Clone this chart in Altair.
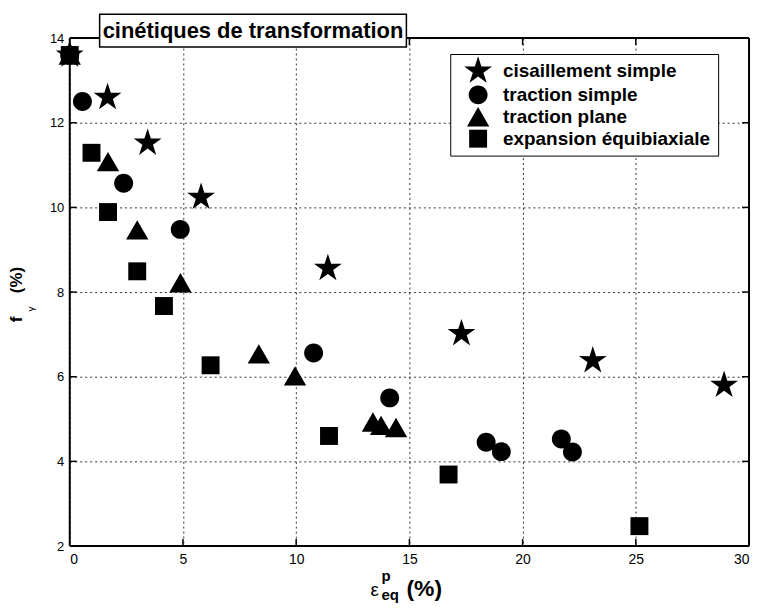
import math
import altair as alt
import pandas as pd

# ---------------- data ----------------
series_names = ["cisaillement simple", "traction simple", "traction plane", "expansion équibiaxiale"]

cis_x = [0, 1.67, 3.44, 5.8, 11.4, 17.3, 23.1, 28.9]
cis_y = [13.6, 12.6, 11.52, 10.24, 8.56, 7.02, 6.38, 5.8]

ts_x = [0, 0.56, 2.38, 4.88, 10.77, 14.13, 18.39, 19.06, 21.71, 22.2]
ts_y = [13.6, 12.5, 10.57, 9.48, 6.56, 5.5, 4.45, 4.23, 4.53, 4.22]

tp_x = [0, 1.69, 2.98, 4.89, 8.35, 9.95, 13.39, 13.75, 14.41]
tp_y = [13.6, 11.08, 9.47, 8.22, 6.54, 6.02, 4.93, 4.85, 4.8]

eb_x = [0, 0.96, 1.69, 2.98, 4.16, 6.22, 11.45, 16.73, 25.16]
eb_y = [13.6, 11.29, 9.89, 8.49, 7.67, 6.27, 4.6, 3.69, 2.47]

x_ticks = [0, 5, 10, 15, 20, 25, 30]
y_ticks = [2, 4, 6, 8, 10, 12, 14]
x_inner_ticks = [5, 10, 15, 20, 25]
y_inner_ticks = [4, 6, 8, 10, 12]

title_text = "cinétiques de transformation"
y_title = "f\u00a0\u00a0\u00a0\u00a0\u00a0(%)"

# ---------------- build table ----------------
rows = []
for name, xs, ys in zip(series_names, [cis_x, ts_x, tp_x, eb_x], [cis_y, ts_y, tp_y, eb_y]):
    for xv, yv in zip(xs, ys):
        rows.append({"serie": name, "x": xv, "y": yv})
df = pd.DataFrame(rows)

# ---------------- marker shapes (unit = sqrt(size)/2 px) ----------------
def star_path(R=1.47, ratio=0.38):
    pts = []
    for k in range(10):
        a = math.radians(-90 + 36 * k)
        r = R if k % 2 == 0 else R * ratio
        pts.append(f"{r*math.cos(a):.3f},{r*math.sin(a):.3f}")
    return "M" + " L".join(pts) + " Z"

circle_path = "M0.95,0 A0.95,0.95 0 1,1 -0.95,0 A0.95,0.95 0 1,1 0.95,0 Z"
triangle_path = "M0,-0.97 L1.12,0.97 L-1.12,0.97 Z"
square_path = "M-0.9,-0.9 L0.9,-0.9 L0.9,0.9 L-0.9,0.9 Z"
shapes = [star_path(), circle_path, triangle_path, square_path]

W, H = 682, 510
FONT = "Liberation Sans"

xs = alt.Scale(domain=[0, 30], nice=False, zero=False)
ys = alt.Scale(domain=[2, 14], nice=False, zero=False)

points = alt.Chart(df).mark_point(filled=True, size=400, opacity=1, color="black", strokeWidth=0).encode(
    x=alt.X("x:Q", scale=xs, axis=alt.Axis(values=x_ticks, title=None, grid=True, gridDash=[2, 3],
                                            gridColor="#333333", gridWidth=1, domain=False, ticks=False,
                                            labelFontSize=14, labelPadding=7, labelColor="black",
                                            labelFont=FONT)),
    y=alt.Y("y:Q", scale=ys, axis=alt.Axis(values=y_ticks, title=y_title, grid=True, gridDash=[2, 3],
                                            gridColor="#333333", gridWidth=1, domain=False, ticks=False,
                                            labelFontSize=13, labelPadding=6, labelColor="black",
                                            labelFont=FONT,
                                            titleFont=FONT, titleFontSize=17, titleFontWeight="bold",
                                            titleColor="black", titleAngle=270, titleAlign="center",
                                            titleBaseline="alphabetic", titleX=-48, titleY=257)),
    shape=alt.Shape("serie:N", scale=alt.Scale(domain=series_names, range=shapes),
                    legend=alt.Legend(title=None, orient="none", legendX=382, legendY=16,
                                      strokeColor="black", fillColor="white", padding=7,
                                      symbolSize=400, symbolFillColor="black", symbolStrokeWidth=0,
                                      symbolOffset=11, labelOffset=15,
                                      labelExpr="datum.label + '\u00a0\u00a0'",
                                      labelFont=FONT, labelFontSize=19, labelFontWeight="bold",
                                      labelColor="black", labelLimit=400, rowPadding=2)),
)

one = alt.Data(values=[{}])

def vrule(x1, x2, y1, y2, w=2):
    return alt.Chart(one).mark_rule(color="black", strokeWidth=w).encode(
        x=alt.value(x1), x2=alt.value(x2), y=alt.value(y1), y2=alt.value(y2))

borders = [vrule(0, W, 0, 0), vrule(0, W, H, H), vrule(0, 0, 0, H), vrule(W, W, 0, H)]

xt = pd.DataFrame({"t": x_inner_ticks})
yt = pd.DataFrame({"t": y_inner_ticks})
tick_b = alt.Chart(xt).mark_rule(color="black", strokeWidth=1.5).encode(
    x=alt.X("t:Q", scale=xs), y=alt.value(H), y2=alt.value(H - 7))
tick_t = alt.Chart(xt).mark_rule(color="black", strokeWidth=1.5).encode(
    x=alt.X("t:Q", scale=xs), y=alt.value(0), y2=alt.value(7))
tick_l = alt.Chart(yt).mark_rule(color="black", strokeWidth=1.5).encode(
    y=alt.Y("t:Q", scale=ys), x=alt.value(0), x2=alt.value(7))
tick_r = alt.Chart(yt).mark_rule(color="black", strokeWidth=1.5).encode(
    y=alt.Y("t:Q", scale=ys), x=alt.value(W), x2=alt.value(W - 7))

title_box = alt.Chart(one).mark_rect(fill="white", stroke="black", strokeWidth=1.5).encode(
    x=alt.value(30), x2=alt.value(338), y=alt.value(-24), y2=alt.value(9))
title_txt = alt.Chart(one).mark_text(text=title_text, font=FONT, fontSize=22, fontWeight="bold",
                                     align="center", baseline="middle", color="black").encode(
    x=alt.value(184), y=alt.value(-7))

def txt(s, x, y, size, weight="bold", angle=None, align="left", baseline="alphabetic"):
    kw = dict(text=s, font=FONT, fontSize=size, fontWeight=weight, align=align,
              baseline=baseline, color="black")
    if angle is not None:
        kw["angle"] = angle
    return alt.Chart(one).mark_text(**kw).encode(x=alt.value(x), y=alt.value(y))

ylab = [
    txt("γ", -36, 272, 10, weight="normal", angle=270, align="center"),
]
xlab = [
    txt("ε", 302, 560, 19, weight="normal"),
    txt("p", 313, 545, 15),
    txt("eq", 313, 564, 15),
    txt("(%)", 338, 560, 23),
]

chart = alt.layer(
    *borders, tick_b, tick_t, tick_l, tick_r, points, title_box, title_txt, *ylab, *xlab
).properties(
    width=W, height=H,
    autosize=alt.AutoSizeParams(type="none"),
    padding={"left": 62, "top": 29, "right": 6, "bottom": 58},
    background="white",
).configure_view(stroke=None)

chart.save("out.html", embed_options={"renderer": "svg", "actions": False})
